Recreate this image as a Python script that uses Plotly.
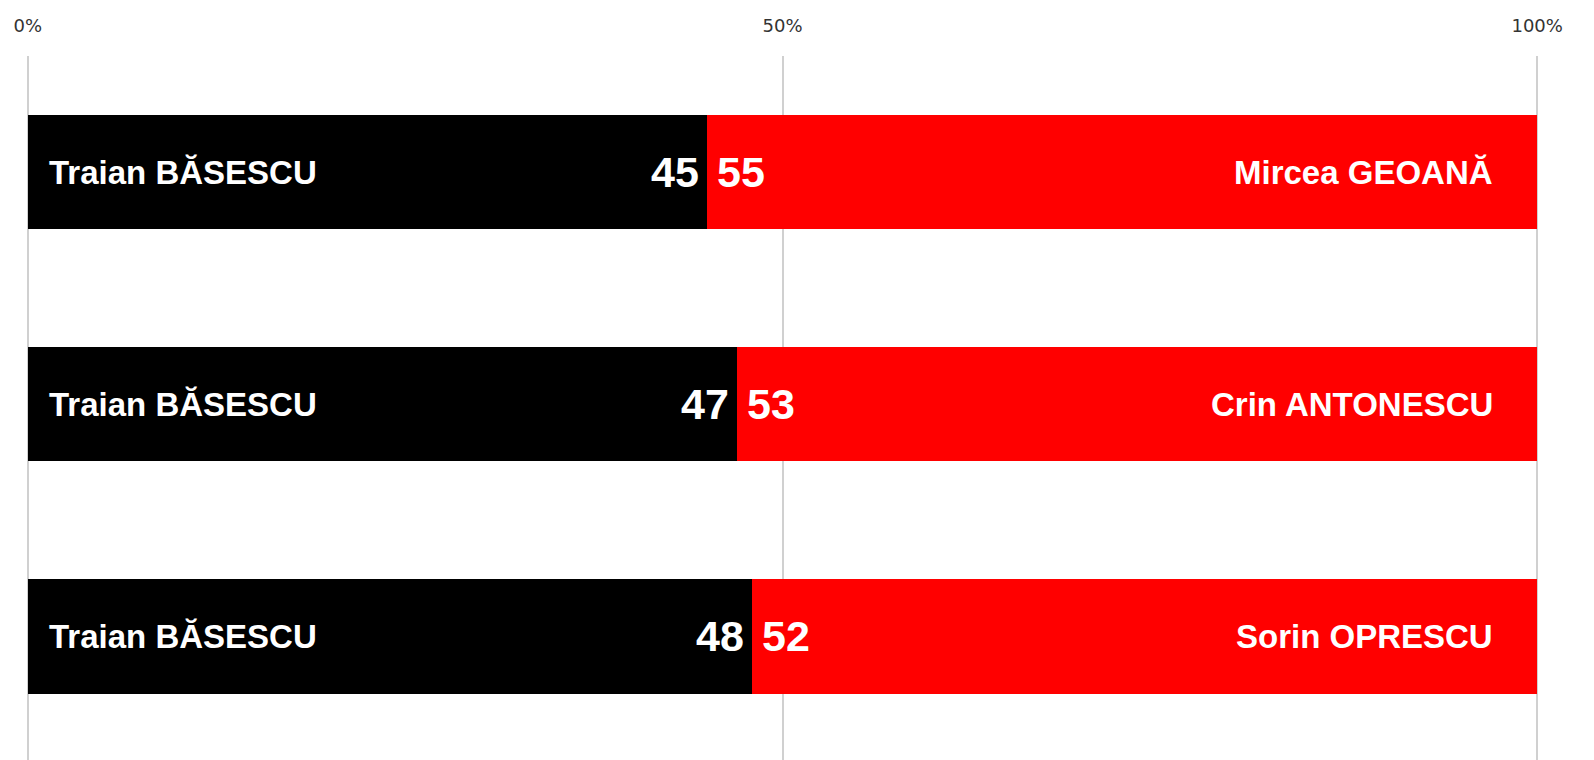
import plotly.graph_objects as go

# Data
opponents = ["Mircea GEOANĂ", "Crin ANTONESCU", "Sorin OPRESCU"]
incumbent = ["Traian BĂSESCU", "Traian BĂSESCU", "Traian BĂSESCU"]
basescu_pct = [45, 47, 48]
opponent_pct = [55, 53, 52]
tick_vals = [0, 50, 100]
tick_text = ["0%", "50%", "100%"]

BAR_W = 0.495
fig = go.Figure()
fig.add_trace(go.Bar(y=opponents, x=basescu_pct, orientation="h",
                     marker=dict(color="#000000", line=dict(width=0)),
                     width=BAR_W, hoverinfo="skip"))
fig.add_trace(go.Bar(y=opponents, x=opponent_pct, orientation="h",
                     marker=dict(color="#ff0000", line=dict(width=0)),
                     width=BAR_W, hoverinfo="skip"))

name_font = dict(family="Liberation Sans, Arial, sans-serif", size=33, color="white", weight="bold")
num_font = dict(family="Liberation Sans, Arial, sans-serif", size=43, color="white", weight="bold")

ann = []
for cat, inc, b, o in zip(opponents, incumbent, basescu_pct, opponent_pct):
    ann.append(dict(x=0, y=cat, xref="x", yref="y", text=inc, showarrow=False,
                    xanchor="left", yanchor="middle", xshift=19, font=name_font))
    ann.append(dict(x=b, y=cat, xref="x", yref="y", text=str(b), showarrow=False,
                    xanchor="right", yanchor="middle", xshift=-6, font=num_font))
    ann.append(dict(x=b, y=cat, xref="x", yref="y", text=str(o), showarrow=False,
                    xanchor="left", yanchor="middle", xshift=8, font=num_font))
    ann.append(dict(x=100, y=cat, xref="x", yref="y", text=cat, showarrow=False,
                    xanchor="right", yanchor="middle", xshift=-42, font=name_font))

fig.update_layout(
    barmode="stack",
    width=1594, height=760,
    margin=dict(l=26, r=55, t=56, b=0),
    paper_bgcolor="white", plot_bgcolor="white",
    showlegend=False,
    annotations=ann,
    xaxis=dict(side="top", range=[-0.12, 100.12], tickvals=tick_vals, ticktext=tick_text,
               showgrid=True, gridcolor="#d0d0d0", gridwidth=1.5, zeroline=False,
               showline=False, ticks="", ticklabelstandoff=19,
               tickfont=dict(family="DejaVu Sans, Verdana, sans-serif", size=18, color="#333333")),
    yaxis=dict(range=[2.534, -0.5], showticklabels=False, showgrid=False, zeroline=False,
               showline=False, ticks=""),
)
fig.write_html("out.html", config={"displayModeBar": False},
               post_script="document.body.style.margin='0';document.body.style.overflow='hidden';")
